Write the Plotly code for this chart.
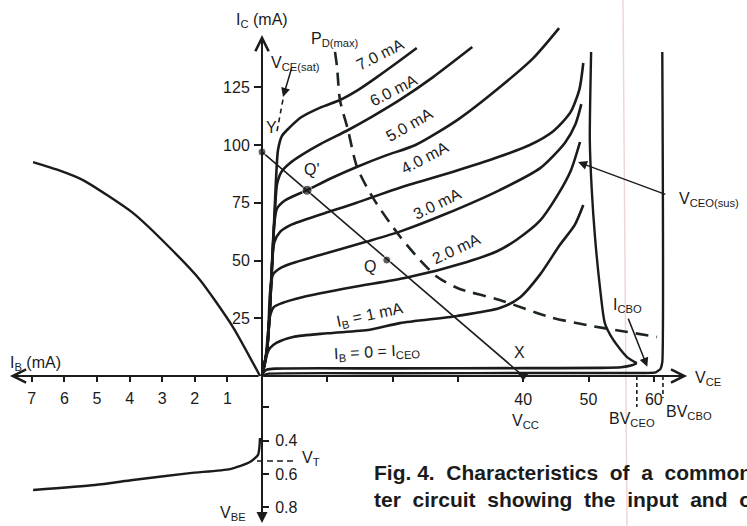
import plotly.graph_objects as go

INK = "#1b1b1b"
FONT = "Liberation Sans, Arial, Helvetica, sans-serif"

# ---- collector characteristics: IC (mA) vs VCE (V), one pair of lists per base current
vce_ib7 = [0, 0.77, 1.23, 1.68, 2.14, 2.45, 3.06, 4.2, 6.0, 9.0, 11.94, 14.8, 17.6, 20.6, 23.7]
ic_ib7 = [0, 11.3, 29.9, 55.8, 84.8, 97.8, 104.0, 107.5, 112.0, 116.3, 119.5, 124.0, 129.4, 135.5, 142.0]

vce_ib6 = [0, 0.77, 1.23, 1.68, 2.0, 2.3, 3.0, 4.3, 5.8, 9.0, 13.2, 17.0, 21.1, 26.2, 32.2]
ic_ib6 = [0, 11.3, 29.9, 55.8, 72.0, 83.0, 88.5, 92.2, 95.2, 100.5, 106.5, 112.5, 119.5, 129.4, 142.4]

vce_ib5 = [0, 0.77, 1.23, 1.55, 1.85, 2.3, 3.5, 6.9, 10.5, 14.5, 19.0, 23.5, 30.0, 36.4, 41.5, 45.5]
ic_ib5 = [0, 11.3, 29.9, 50.0, 65.0, 72.5, 76.0, 80.5, 85.5, 90.5, 95.5, 100.0, 111.0, 125.0, 137.5, 150.6]

vce_ib4 = [0, 0.77, 1.23, 1.5, 1.9, 2.8, 4.5, 6.9, 10.7, 14.5, 17.0, 21.1, 28.8, 36.4, 41.0, 44.6, 47.2, 48.6, 49.2]
ic_ib4 = [0, 11.3, 29.9, 47.0, 58.0, 62.5, 65.5, 68.0, 71.5, 75.0, 77.5, 81.5, 88.0, 95.0, 100.0, 106.0, 114.0, 124.0, 135.5]

vce_ib3 = [0, 0.77, 1.0, 1.23, 1.7, 3.0, 4.3, 8.9, 15.8, 21.1, 28.0, 36.4, 42.6, 46.4, 48.0, 48.9]
ic_ib3 = [0, 11.3, 22.0, 36.0, 44.0, 47.0, 48.5, 52.4, 58.0, 62.5, 70.0, 80.5, 90.0, 101.0, 109.0, 117.7]

vce_ib2 = [0, 0.6, 0.9, 1.23, 1.8, 3.0, 6.3, 14.0, 22.2, 31.4, 36.0, 39.0, 42.5, 45.2, 47.3, 48.7]
ic_ib2 = [0, 9.0, 18.0, 26.0, 29.8, 31.5, 34.2, 38.5, 42.6, 49.4, 54.0, 59.0, 67.0, 78.0, 89.0, 101.3]

vce_ib1 = [0, 0.5, 0.77, 1.2, 2.2, 4.75, 10.0, 16.5, 21.1, 29.9, 36.4, 39.5, 42.6, 45.6, 47.9, 49.2]
ic_ib1 = [0, 6.0, 9.5, 12.0, 14.3, 16.9, 18.5, 20.0, 22.9, 26.0, 29.4, 34.0, 44.0, 56.7, 65.4, 74.0]

vce_ib0 = [0, 0.3, 0.8, 2.0, 20.0, 40.0, 52.0, 55.0, 56.5, 57.4]
ic_ib0 = [0, 1.8, 2.8, 3.2, 3.3, 3.4, 3.5, 3.8, 4.5, 5.6]

# breakdown lines
vce_sus = [50.4, 50.2, 50.5, 51.0, 51.8, 52.5, 53.8, 55.9, 57.4]
ic_sus = [140.3, 102.2, 80.5, 60.0, 37.2, 22.9, 15.6, 8.2, 5.6]
vce_cbo = [0, 1.0, 20.0, 45.0, 58.5, 60.3, 61.0, 61.3, 61.3]
ic_cbo = [0, 1.0, 1.2, 1.3, 1.3, 1.6, 3.0, 6.0, 140.3]

# maximum dissipation hyperbola
vce_pd = [11.18, 11.49, 11.94, 13.17, 14.55, 17.0, 21.1, 24.2, 26.8, 30.0, 36.4, 44.1, 49.8, 55.0, 60.5]
ic_pd = [140.3, 133.8, 119.5, 106.5, 90.5, 77.1, 60.5, 50.2, 43.0, 38.0, 32.9, 25.5, 22.0, 19.5, 16.9]

# load line and operating points
vce_load = [0, 40]
ic_load = [97, 0]
vce_points = [0, 6.9, 19.1]
ic_points = [97, 80.4, 50.2]
vce_sat = [2.3, 3.3]
ic_sat = [106, 121]

# transfer curve IC vs IB (upper left) and input curve VBE vs IB (lower left)
ib_transfer = [0, 0.83, 1.84, 2.85, 3.90, 5.43, 6.2, 6.96]
ic_transfer = [0, 21.2, 41.6, 56.7, 70.6, 84.8, 89.2, 92.6]
ib_input = [0, 0.02, 0.06, 0.31, 0.92, 2.15, 3.9, 5.06, 6.96]
vbe_input = [0.384, 0.444, 0.486, 0.529, 0.571, 0.595, 0.637, 0.667, 0.697]
vbe_threshold = 0.523

# breakdown voltage markers
bv_ceo = 57.4
bv_cbo = 61.4

curve_labels = ["7.0 mA", "6.0 mA", "5.0 mA", "4.0 mA", "3.0 mA", "2.0 mA",
                "I<sub>B</sub> = 1 mA", "I<sub>B</sub> = 0 = I<sub>CEO</sub>"]
vce_ticks = [10, 20, 30, 40, 50, 60]
vce_ticktext = ["", "", "", "40", "50", "60"]
ib_ticks = [1, 2, 3, 4, 5, 6, 7]
ic_ticks = [25, 50, 75, 100, 125]
vbe_ticks = [0.2, 0.4, 0.6, 0.8]
vbe_ticktext = ["", "0.4", "0.6", "0.8"]

fig = go.Figure()

curves = [(vce_ib7, ic_ib7), (vce_ib6, ic_ib6), (vce_ib5, ic_ib5), (vce_ib4, ic_ib4),
          (vce_ib3, ic_ib3), (vce_ib2, ic_ib2), (vce_ib1, ic_ib1), (vce_ib0, ic_ib0)]
for vx, iy in curves:
    fig.add_trace(go.Scatter(x=vx, y=iy, mode="lines",
                             line=dict(color=INK, width=2.6, shape="spline", smoothing=0.7)))

fig.add_trace(go.Scatter(x=vce_sus, y=ic_sus, mode="lines",
                         line=dict(color=INK, width=2.4, shape="spline", smoothing=0.6)))
fig.add_trace(go.Scatter(x=vce_cbo, y=ic_cbo, mode="lines",
                         line=dict(color=INK, width=2.4, shape="spline", smoothing=0.4)))
fig.add_trace(go.Scatter(x=vce_pd, y=ic_pd, mode="lines",
                         line=dict(color="#1d261d", width=2.6, dash="13px,8px",
                                   shape="spline", smoothing=0.8)))
fig.add_trace(go.Scatter(x=vce_load, y=ic_load, mode="lines",
                         line=dict(color=INK, width=1.6)))
fig.add_trace(go.Scatter(x=vce_points, y=ic_points, mode="markers",
                         marker=dict(color=INK, size=[8, 10, 8])))
fig.add_trace(go.Scatter(x=[vce_load[1]], y=[ic_load[1]], mode="markers",
                         marker=dict(color=INK, size=9, symbol="triangle-down")))
fig.add_trace(go.Scatter(x=vce_sat, y=ic_sat, mode="lines",
                         line=dict(color=INK, width=1.6, dash="5px,4px")))
for bv, depth in [(bv_ceo, -13.4), (bv_cbo, -9.5)]:
    fig.add_trace(go.Scatter(x=[bv, bv], y=[0, depth], mode="lines",
                             line=dict(color=INK, width=1.6, dash="4px,3px")))

fig.add_trace(go.Scatter(x=ib_transfer, y=ic_transfer, xaxis="x2", yaxis="y", mode="lines",
                         line=dict(color=INK, width=2.4, shape="spline", smoothing=0.6)))
fig.add_trace(go.Scatter(x=ib_input, y=vbe_input, xaxis="x2", yaxis="y2", mode="lines",
                         line=dict(color=INK, width=2.4, shape="spline", smoothing=0.6)))
fig.add_trace(go.Scatter(x=[-0.77, 5.36], y=[vbe_threshold, vbe_threshold], xaxis="x", yaxis="y2",
                         mode="lines", line=dict(color=INK, width=1.5, dash="6px,4px")))


def label(text, x, y, xref="x", yref="y", size=16, angle=0, xanchor="center", yanchor="middle"):
    return dict(text=text, x=x, y=y, xref=xref, yref=yref, showarrow=False,
                textangle=angle, xanchor=xanchor, yanchor=yanchor,
                font=dict(size=size, color=INK, family=FONT))


def arrow(x, y, ax, ay, xref="x", yref="y", head=2, width=1.5, size=1.2):
    return dict(text="", x=x, y=y, ax=ax, ay=ay, xref=xref, yref=yref, axref=xref, ayref=yref,
                showarrow=True, arrowhead=head, arrowwidth=width, arrowsize=size, arrowcolor=INK)


curve_pos = [(18.07, 139.0, -27), (20.06, 123.8, -27), (22.66, 108.7, -30), (24.96, 94.8, -28),
             (26.95, 74.5, -26), (29.86, 55.0, -25), (16.54, 26.4, -12), (17.6, 10.0, -3)]
annotations = [label(t, x, y, angle=a) for t, (x, y, a) in zip(curve_labels, curve_pos)]

annotations += [
    # axes with arrow heads
    arrow(0, 147.6, 0, 0, head=5, width=2, size=1.3),
    arrow(65.1, 0, 0, 0, head=5, width=2, size=1.3),
    arrow(7.67, 0, 0, 0, xref="x2", head=5, width=2, size=1.3),
    arrow(0, 0.895, 0, 0, yref="y2", head=2, width=2, size=1.1),
    # pointers
    arrow(3.22, 120.8, 4.59, 133.8, head=2, width=1.5, size=1.2),
    arrow(48.4, 92.6, 62.0, 78.4, head=2, width=1.5, size=1.2),
    arrow(59.0, 4.0, 56.0, 25.5, head=2, width=1.5, size=1.2),
    # texts
    label("I<sub>C</sub> (mA)", 0, 154.1),
    label("V<sub>CE</sub>", 66.0, -0.9, xanchor="left"),
    label("I<sub>B</sub> (mA)", 7.73, 5.2, xref="x2", xanchor="left"),
    label("V<sub>BE</sub>", 0.83, 0.835, xref="x2", yref="y2"),
    label("V<sub>T</sub>", 5.8, 0.51, yref="y2", xanchor="left"),
    label("V<sub>CE(sat)</sub>", 5.2, 135.1),
    label("P<sub>D(max)</sub>", 11.18, 145.5),
    label("Y", 1.53, 107.4),
    label("Q'", 7.66, 89.2),
    label("Q", 16.54, 47.2),
    label("X", 39.5, 10.0),
    label("V<sub>CC</sub>", 40.4, -19.9),
    label("BV<sub>CEO</sub>", 56.7, -19.0),
    label("BV<sub>CBO</sub>", 65.4, -15.6),
    label("I<sub>CBO</sub>", 55.9, 30.7),
    label("V<sub>CEO(sus)</sub>", 63.55, 76.2, xanchor="left"),
    dict(text="<b>Fig. 4.  Characteristics  of  a  common-emit</b><br>"
              "<b>ter  circuit  showing  the  input  and  output</b>",
         x=16.85, y=-35.9, xref="x", yref="y", showarrow=False, align="left",
         xanchor="left", yanchor="top", font=dict(size=21, color=INK, family=FONT)),
]

tick_font = dict(size=16, color=INK, family=FONT)
fig.update_layout(
    width=747, height=526,
    margin=dict(l=0, r=0, t=0, b=0),
    paper_bgcolor="white", plot_bgcolor="white",
    showlegend=False, hovermode=False,
    font=dict(family=FONT, color=INK),
    xaxis=dict(range=[-40.123, 74.272], anchor="free", position=0.28517,
               tickvals=vce_ticks, ticktext=vce_ticktext, ticks="outside", ticklen=5,
               tickwidth=1.5, tickcolor=INK, tickfont=tick_font, ticklabelstandoff=4,
               showgrid=False, zeroline=False, showline=False),
    xaxis2=dict(range=[7.9755, -14.939], overlaying="x", anchor="free", position=0.28517,
                tickvals=ib_ticks, ticktext=[str(v) for v in ib_ticks], ticks="outside", ticklen=5,
                tickwidth=1.5, tickcolor=INK, tickfont=tick_font, ticklabelstandoff=3,
                showgrid=False, zeroline=False, showline=False),
    yaxis=dict(range=[-64.935, 162.771], anchor="free", position=0.35074,
               tickvals=ic_ticks, ticktext=[str(v) for v in ic_ticks], ticks="outside", ticklen=8,
               tickwidth=1.5, tickcolor=INK, tickfont=tick_font, ticklabelstandoff=1,
               showgrid=False, zeroline=False, showline=False),
    yaxis2=dict(range=[0.91291, -2.24625], overlaying="y", anchor="free", position=0.35074,
                side="right", tickvals=vbe_ticks, ticktext=vbe_ticktext, ticks="outside", ticklen=6,
                tickwidth=1.5, tickcolor=INK, tickfont=tick_font, ticklabelstandoff=3,
                showgrid=False, zeroline=False, showline=False),
    annotations=annotations,
    shapes=[dict(type="line", xref="paper", yref="paper", x0=623 / 747, x1=627 / 747, y0=1, y1=0,
                 line=dict(color="#efd6d6", width=1.5), layer="below")],
)

fig.write_html("out.html", config={"displayModeBar": False},
               post_script="document.body.style.margin='0';")
